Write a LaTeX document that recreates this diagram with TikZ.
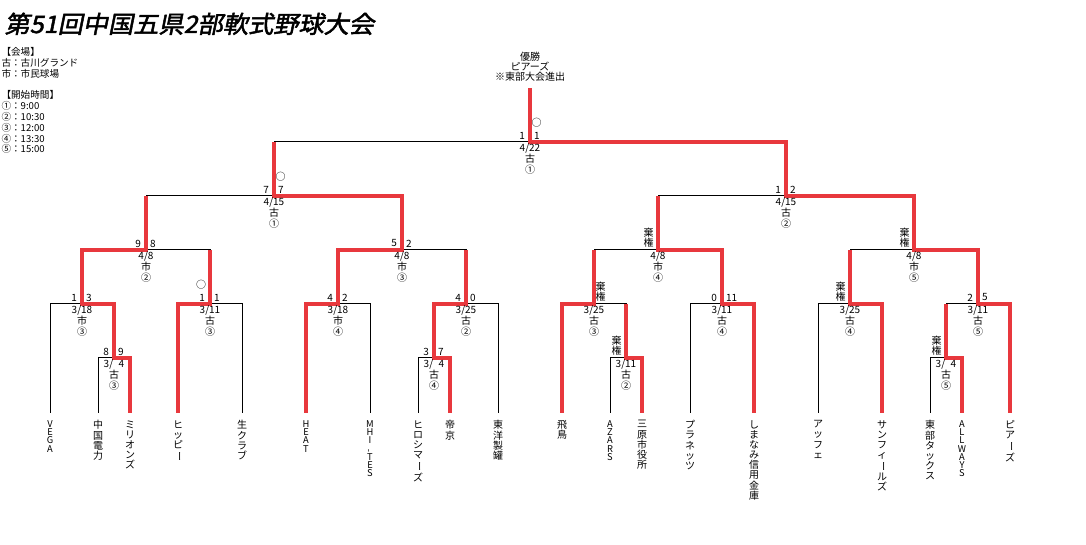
\documentclass[tikz,border=0pt]{standalone}
\usepackage{fontspec}
\usepackage{graphicx}
\setmainfont{Noto Sans CJK JP}
\newfontfamily\titlefont[FakeSlant=0.2,FakeStretch=1.05,FakeBold=2]{Noto Sans CJK JP}
\definecolor{winred}{RGB}{232,56,61}
\newcommand\vbar{\rotatebox[origin=c]{-90}{ー}}
\newcommand\vdashmark{\rotatebox[origin=c]{90}{-}}
\newcommand\mlab[6]{%
  \node[lab,anchor=east] (#1-l) at ([shift={(-4.5,-6.5)}]#1) {#2};
  \node[lab,anchor=west] (#1-r) at ([shift={(3.5,-6.5)}]#1) {#3};
  \node[lab] (#1-d) at ([shift={(0,6.5)}]#1) {#4};
  \node[lab] (#1-v) at ([shift={(0,17)}]#1) {#5};
  \node[lab] (#1-n) at ([shift={(0,27.5)}]#1) {#6};}
\newcommand\kikenL[1]{\node[lab,align=center] (#1-k) at ([shift={(-9.5,-12.5)}]#1) {棄\\権};}
\newcommand\kikenR[1]{\node[lab,align=center] (#1-k) at ([shift={(6.5,-12.5)}]#1) {棄\\権};}
\newcommand\maruL[1]{\node[lab] (#1-o) at ([shift={(-9,-19)}]#1) {○};}
\newcommand\maruR[1]{\node[lab] (#1-o) at ([shift={(6.5,-19)}]#1) {○};}
\newcommand\dsp{\hphantom{1}}
\begin{document}
\begin{tikzpicture}[x=0.75pt,y=-0.75pt,line width=0.75pt,
  lab/.style={font=\fontsize{7.5}{7.9}\selectfont,inner sep=0},
  team/.style={anchor=north,align=center,inner sep=0,font=\fontsize{7.5}{7.6}\selectfont},
  teamL/.style={team,font=\fontsize{7}{6.2}\selectfont},
  win/.style={draw=winred,line width=2.6pt,line join=miter}]
\fill[white] (0,0) rectangle (1086,545);
\useasboundingbox (0,0) rectangle (1086,545);

% title and legend
\node[anchor=base west,inner sep=0,font=\titlefont\fontsize{18}{18}\selectfont] (title) at (4,33) {第51回中国五県2部軟式野球大会};
\node[anchor=north west,align=left,inner sep=0,font=\fontsize{7.2}{8.1}\selectfont] (legend) at (1,47)
  {【会場】\\古：古川グランド\\市：市民球場\\[8.1pt]【開始時間】\\①：9:00\\②：10:30\\③：12:00\\④：13:30\\⑤：15:00};
\node[anchor=north,align=center,inner sep=0,font=\fontsize{7.5}{7.6}\selectfont] (champtext) at (530,51.5)
  {優勝\\ピアーズ\\※東部大会進出};

% leaves
\coordinate (nb) at (0,420);
\coordinate (t1) at (50,413);   \coordinate (t2) at (98,413);   \coordinate (t3) at (130,413);
\coordinate (t4) at (178,413);  \coordinate (t5) at (242,413);  \coordinate (t6) at (306,413);
\coordinate (t7) at (370,413);  \coordinate (t8) at (418,413);  \coordinate (t9) at (450,413);
\coordinate (t10) at (498,413); \coordinate (t11) at (562,413); \coordinate (t12) at (610,413);
\coordinate (t13) at (642,413); \coordinate (t14) at (690,413); \coordinate (t15) at (754,413);
\coordinate (t16) at (818,413); \coordinate (t17) at (882,413); \coordinate (t18) at (930,413);
\coordinate (t19) at (962,413); \coordinate (t20) at (1010,413);

% matches
\coordinate (mA) at (114,358); \coordinate (mB) at (434,358);
\coordinate (mC) at (626,358); \coordinate (mD) at (946,358);
\coordinate (mE) at (82,304);  \coordinate (mF) at (210,304);
\coordinate (mG) at (338,304); \coordinate (mH) at (466,304);
\coordinate (mI) at (594,304); \coordinate (mJ) at (722,304);
\coordinate (mK) at (850,304); \coordinate (mL) at (978,304);
\coordinate (mM) at (146,250); \coordinate (mN) at (402,250);
\coordinate (mO) at (658,250); \coordinate (mP) at (914,250);
\coordinate (mQ) at (274,196); \coordinate (mR) at (786,196);
\coordinate (mS) at (530,142); \coordinate (champ) at (530,88);

% black bracket
\foreach \c/\p in {t2/mA,t3/mA,t8/mB,t9/mB,t12/mC,t13/mC,t18/mD,t19/mD,
  t1/mE,mA/mE,t4/mF,t5/mF,t6/mG,t7/mG,mB/mH,t10/mH,t11/mI,mC/mI,
  t14/mJ,t15/mJ,t16/mK,t17/mK,mD/mL,t20/mL,
  mE/mM,mF/mM,mG/mN,mH/mN,mI/mO,mJ/mO,mK/mP,mL/mP,
  mM/mQ,mN/mQ,mO/mR,mP/mR,mQ/mS,mR/mS}
  \draw (\c) |- (\p);
\draw (mS) -- (champ);

% winners
\draw[win] (t3) |- (mA) |- (mE) |- (mM) -- (mM |- mQ);
\draw[win] (t4) |- (mF) -- (mF |- mM);
\draw[win] (t6) |- (mG) |- (mN) |- (mQ) -- (mQ |- mS);
\draw[win] (t9) |- (mB) |- (mH) -- (mH |- mN);
\draw[win] (t11) |- (mI) -- (mI |- mO);
\draw[win] (t13) |- (mC) -- (mC |- mI);
\draw[win] (t15) |- (mJ) |- (mO) -- (mO |- mR);
\draw[win] (t17) |- (mK) -- (mK |- mP);
\draw[win] (t19) |- (mD) -- (mD |- mL);
\draw[win] (t20) |- (mL) |- (mP) |- (mR) |- (mS) -- (champ);

% match labels
\mlab{mA}{8}{9}{3/\dsp4}{古}{③}
\mlab{mB}{3}{7}{3/\dsp4}{古}{④}
\mlab{mC}{}{}{3/11}{古}{②}\kikenL{mC}
\mlab{mD}{}{}{3/\dsp4}{古}{⑤}\kikenL{mD}
\mlab{mE}{1}{3}{3/18}{市}{③}
\mlab{mF}{1}{1}{3/11}{古}{③}\maruL{mF}
\mlab{mG}{4}{2}{3/18}{市}{④}
\mlab{mH}{4}{0}{3/25}{古}{②}
\mlab{mI}{}{}{3/25}{古}{③}\kikenR{mI}
\mlab{mJ}{0}{11}{3/11}{古}{④}
\mlab{mK}{}{}{3/25}{古}{④}\kikenL{mK}
\mlab{mL}{2}{5}{3/11}{古}{⑤}
\mlab{mM}{9}{8}{4/8}{市}{②}
\mlab{mN}{5}{2}{4/8}{市}{③}
\mlab{mO}{}{}{4/8}{市}{④}\kikenL{mO}
\mlab{mP}{}{}{4/8}{市}{⑤}\kikenL{mP}
\mlab{mQ}{7}{7}{4/15}{古}{①}\maruR{mQ}
\mlab{mR}{1}{2}{4/15}{古}{②}
\mlab{mS}{1}{1}{4/22}{古}{①}\maruR{mS}

% team names
\node[teamL] (n1) at (t1 |- nb) {V\\E\\G\\A};
\node[team] (n2) at (t2 |- nb) {中\\国\\電\\力};
\node[team] (n3) at (t3 |- nb) {ミ\\リ\\オ\\ン\\ズ};
\node[team] (n4) at (t4 |- nb) {ヒ\\ッ\\ピ\\\vbar};
\node[team] (n5) at (t5 |- nb) {生\\ク\\ラ\\ブ};
\node[teamL] (n6) at (t6 |- nb) {H\\E\\A\\T};
\node[teamL] (n7) at (t7 |- nb) {M\\H\\I\\\vdashmark\\T\\E\\S};
\node[team] (n8) at (t8 |- nb) {ヒ\\ロ\\シ\\マ\\\vbar\\ズ};
\node[team] (n9) at (t9 |- nb) {帝\\京};
\node[team] (n10) at (t10 |- nb) {東\\洋\\製\\罐};
\node[team] (n11) at (t11 |- nb) {飛\\鳥};
\node[teamL] (n12) at (t12 |- nb) {A\\Z\\A\\R\\S};
\node[team] (n13) at (t13 |- nb) {三\\原\\市\\役\\所};
\node[team] (n14) at (t14 |- nb) {プ\\ラ\\ネ\\ッ\\ツ};
\node[team] (n15) at (t15 |- nb) {し\\ま\\な\\み\\信\\用\\金\\庫};
\node[team] (n16) at (t16 |- nb) {ア\\ッ\\フ\\ェ};
\node[team] (n17) at (t17 |- nb) {サ\\ン\\フ\\ィ\\\vbar\\ル\\ズ};
\node[team] (n18) at (t18 |- nb) {東\\部\\タ\\ッ\\ク\\ス};
\node[teamL] (n19) at (t19 |- nb) {A\\L\\L\\W\\A\\Y\\S};
\node[team] (n20) at (t20 |- nb) {ピ\\ア\\\vbar\\ズ};
\end{tikzpicture}
\end{document}
